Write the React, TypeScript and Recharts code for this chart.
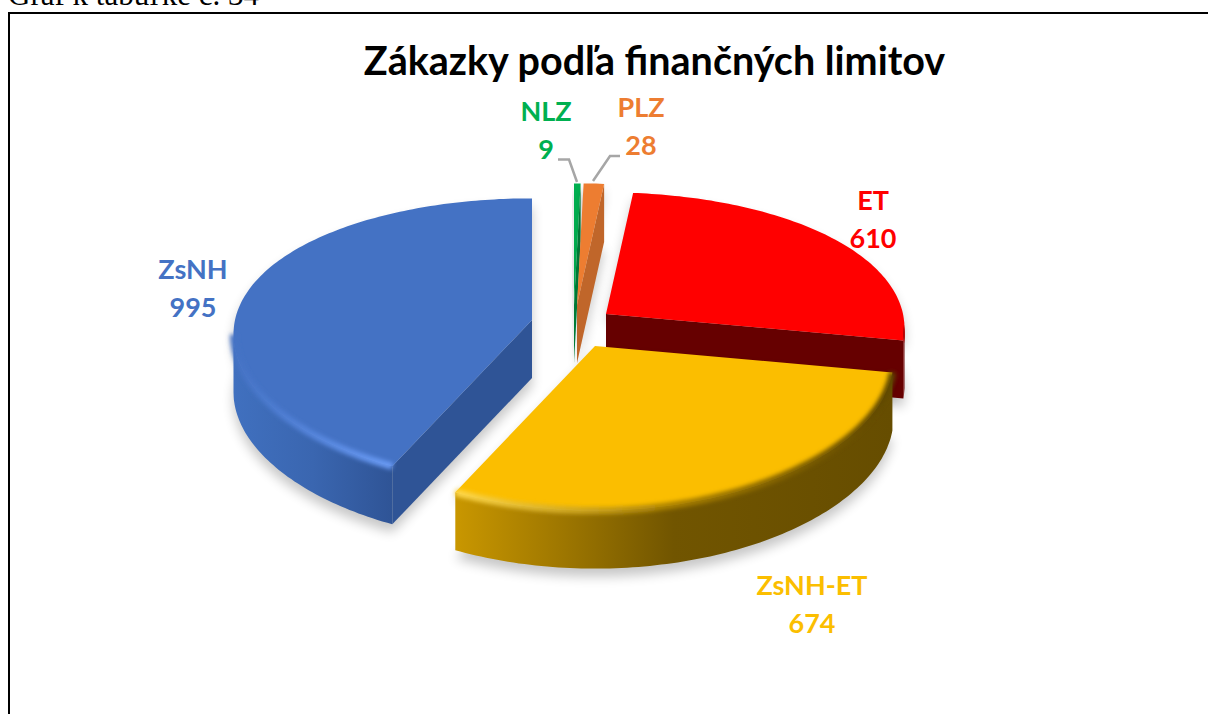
import { PieChart, Pie } from "recharts";

const SLICE_NAMES = ["NLZ", "PLZ", "ET", "ZsNH-ET", "ZsNH"];
const SLICE_VALUES = [9, 28, 610, 674, 995];

const pieData = SLICE_NAMES.map((name, i) => ({ name, value: SLICE_VALUES[i] }));

const FONT = "Lato, 'Noto Sans', sans-serif";

// projection of the tilted pie
const RADIUS_X = 297;
const TILT = 0.471;
const PERSPECTIVE_X = 0.1;
const PERSPECTIVE_Y = 0.15;
const DEPTH = 58;
const CX = 575;
const CY = 325;

type SliceLook = {
  dx: number;
  dy: number;
  top: string;
  cut: string;
  wall: [string, string, string];
  bevel: [string, string, string];
  text: string;
};

const LOOK: Record<string, SliceLook> = {
  NLZ: { dx: -1, dy: -20, top: "#00b050", cut: "#00803a", wall: ["#00803a", "#00803a", "#00803a"], bevel: ["#00b050", "#00b050", "#00b050"], text: "#00b050" },
  PLZ: { dx: 2, dy: -20, top: "#ed7d31", cut: "#c0662a", wall: ["#c0662a", "#c0662a", "#c0662a"], bevel: ["#ed7d31", "#ed7d31", "#ed7d31"], text: "#ed7d31" },
  ET: { dx: 31, dy: -11, top: "#ff0000", cut: "#660000", wall: ["#7a0000", "#7a0000", "#660000"], bevel: ["#b00000", "#b00000", "#b00000"], text: "#ff0000" },
  "ZsNH-ET": { dx: 20, dy: 21, top: "#fbbe00", cut: "#665000", wall: ["#c99700", "#715500", "#664d00"], bevel: ["#ffd84a", "#a98000", "#5e4700"], text: "#fbbe00" },
  ZsNH: { dx: -43, dy: -5, top: "#4472c4", cut: "#2f5496", wall: ["#4070bf", "#3a66b0", "#2f5496"], bevel: ["#4472c4", "#5585dc", "#6a9bf5"], text: "#4472c4" },
};

const LABEL_SPOTS: Record<string, { x: number; y: number }> = {
  NLZ: { x: 546, y: 121 },
  PLZ: { x: 641, y: 117 },
  ET: { x: 873, y: 210 },
  "ZsNH-ET": { x: 812, y: 595 },
  ZsNH: { x: 193, y: 279 },
};

const LEADERS: Record<string, string> = {
  NLZ: "M558 159.5 L569 159.5 L577 182",
  PLZ: "M620 156 L610 156 L593 181",
};

function project(theta: number, radiusX: number) {
  const rad = (theta * Math.PI) / 180;
  const c = Math.cos(rad);
  return {
    x: (radiusX * Math.sin(rad)) / (1 + PERSPECTIVE_X * c),
    y: (-radiusX * TILT * c) / (1 + PERSPECTIVE_Y * c),
  };
}

function toPath(points: { x: number; y: number }[], close = true) {
  return points.map((p, i) => `${i === 0 ? "M" : "L"}${p.x.toFixed(1)} ${p.y.toFixed(1)}`).join(" ") + (close ? " Z" : "");
}

function SliceShape(props: any) {
  const { cx, cy, outerRadius, startAngle, endAngle } = props;
  const name = props.name ?? props.payload?.name;
  const look = LOOK[name];
  const t1 = 90 - startAngle;
  const t2 = 90 - endAngle;
  const ax = cx + look.dx;
  const ay = cy + look.dy;

  const rim: { x: number; y: number }[] = [];
  const steps = Math.max(4, Math.ceil(t2 - t1));
  for (let i = 0; i <= steps; i++) {
    const p = project(t1 + ((t2 - t1) * i) / steps, outerRadius);
    rim.push({ x: ax + p.x, y: ay + p.y });
  }
  const apex = { x: ax, y: ay };
  const down = (p: { x: number; y: number }, d = DEPTH) => ({ x: p.x, y: p.y + d });
  const first = rim[0];
  const last = rim[rim.length - 1];

  // the part of the rim that faces the viewer
  const front = rim.filter((p, i) => {
    const next = rim[i + 1];
    const prev = rim[i - 1];
    return (next && next.x < p.x) || (prev && p.x < prev.x);
  });
  const xs = front.map((p) => p.x);
  const minX = front.length ? Math.min(...xs) : 0;
  const maxX = front.length ? Math.max(...xs) : 1;
  const id = `s${props.index}`;

  const topPath = toPath([apex, ...rim]);
  const bottomPath = toPath([apex, ...rim].map((p) => down(p)));

  return (
    <g>
      <defs>
        <linearGradient id={`${id}-wall`} gradientUnits="userSpaceOnUse" x1={minX} x2={maxX} y1={0} y2={0}>
          <stop offset="0" stopColor={look.wall[0]} />
          <stop offset="0.5" stopColor={look.wall[1]} />
          <stop offset="1" stopColor={look.wall[2]} />
        </linearGradient>
        <linearGradient id={`${id}-bevel`} gradientUnits="userSpaceOnUse" x1={minX} x2={maxX} y1={0} y2={0}>
          <stop offset="0" stopColor={look.bevel[0]} />
          <stop offset="0.5" stopColor={look.bevel[1]} />
          <stop offset="1" stopColor={look.bevel[2]} />
        </linearGradient>
        <filter id={`${id}-soft`} x="-30%" y="-30%" width="160%" height="160%">
          <feGaussianBlur stdDeviation="6" />
        </filter>
        <filter id={`${id}-edge`} x="-10%" y="-20%" width="120%" height="140%">
          <feGaussianBlur stdDeviation="2.2" />
        </filter>
      </defs>
      <g filter={`url(#${id}-soft)`} opacity={0.22}>
        <path d={topPath} fill="#000" transform="translate(0 8)" />
        <path d={bottomPath} fill="#000" transform="translate(0 8)" />
      </g>
      {front.length > 1 && (
        <path d={toPath([...front, ...[...front].reverse().map((p) => down(p))])} fill={`url(#${id}-wall)`} />
      )}
      {first.x - ax < 0 && <path d={toPath([apex, first, down(first), down(apex)])} fill={look.cut} />}
      {last.x - ax > 0 && <path d={toPath([apex, last, down(last), down(apex)])} fill={look.cut} />}
      <path d={topPath} fill={look.top} />
      {front.length > 1 && (
        <path
          d={toPath(front, false)}
          fill="none"
          stroke={`url(#${id}-bevel)`}
          strokeWidth={7}
          filter={`url(#${id}-edge)`}
        />
      )}
    </g>
  );
}

function SliceLabel(props: any) {
  const name = props.name ?? props.payload?.name;
  const spot = LABEL_SPOTS[name];
  return (
    <text x={spot.x} y={spot.y} textAnchor="middle" fill={LOOK[name].text} fontFamily={FONT} fontWeight={700} fontSize={27}>
      <tspan x={spot.x}>{name}</tspan>
      <tspan x={spot.x} dy={38}>
        {props.value}
      </tspan>
    </text>
  );
}

function SliceLeader(props: any) {
  const name = props.name ?? props.payload?.name;
  const d = LEADERS[name];
  if (!d) return <g />;
  return <path d={d} fill="none" stroke="#a6a6a6" strokeWidth={2.5} />;
}

export default function App() {
  return (
    <div style={{ position: "absolute", left: 0, top: 0, width: 1208, height: 714, overflow: "hidden", background: "#fff" }}>
      <div
        style={{
          position: "absolute",
          left: 8,
          top: -20,
          fontFamily: "'Liberation Serif', serif",
          fontSize: 31,
          lineHeight: "30px",
          whiteSpace: "nowrap",
          color: "#000",
        }}
      >
        Graf k tabuľke č. 34
      </div>
      <div
        style={{
          position: "absolute",
          left: 8,
          top: 12,
          width: 1300,
          height: 800,
          borderLeft: "2px solid #000",
          borderTop: "2px solid #000",
        }}
      />
      <div
        style={{
          position: "absolute",
          left: 0,
          width: 1309,
          top: 40,
          textAlign: "center",
          fontFamily: FONT,
          fontWeight: 700,
          fontSize: 39.5,
          lineHeight: "40px",
          color: "#000",
          whiteSpace: "nowrap",
        }}
      >
        Zákazky podľa finančných limitov
      </div>
      <div style={{ position: "absolute", left: 0, top: 0 }}>
        <PieChart width={1208} height={714} margin={{ top: 0, right: 0, bottom: 0, left: 0 }}>
          <Pie
            data={pieData}
            dataKey="value"
            nameKey="name"
            cx={CX}
            cy={CY}
            outerRadius={RADIUS_X}
            startAngle={90}
            endAngle={-270}
            stroke="none"
            isAnimationActive={false}
            shape={SliceShape}
            label={SliceLabel}
            labelLine={SliceLeader}
          />
        </PieChart>
      </div>
    </div>
  );
}
